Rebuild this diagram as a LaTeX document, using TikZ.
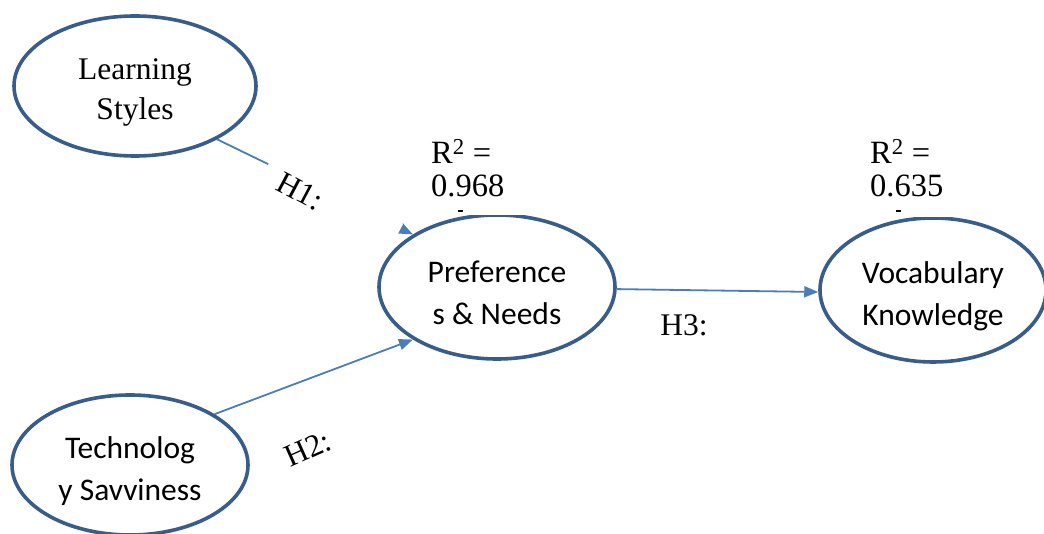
\documentclass[tikz,border=0pt]{standalone}
\usepackage{fontspec}
\setmainfont{Liberation Serif}
\newfontfamily\calibri{Carlito}
\usetikzlibrary{arrows.meta,shapes.geometric}
\definecolor{shapeline}{HTML}{385D8A}
\definecolor{linkline}{HTML}{4A7EBB}
% first-line strut that pushes a two-line label slightly below centre
\newcommand\toplift{\rule{0pt}{34pt}}
\begin{document}
\begin{tikzpicture}[x=1pt,y=-1pt,
  concept/.style={ellipse, draw=shapeline, line width=3.6pt, fill=white,
    inner sep=0pt, align=center},
  sanslabel/.style={font=\calibri\fontsize{31.5}{39}\selectfont},
  seriflabel/.style={font=\fontsize{31.5}{37}\selectfont},
  link/.style={draw=linkline, line width=1.8pt,
    -{Triangle[length=14pt,width=11pt]}},
  hypo/.style={font=\fontsize{31.5}{36}\selectfont, inner sep=3pt},
  rsq/.style={font=\fontsize{32.5}{33}\selectfont, align=left, inner sep=0pt},
]
\clip (0,0) rectangle (1044,534);
\fill[white] (0,0) rectangle (1044,534);

% constructs
\node[concept, seriflabel, minimum width=242pt, minimum height=140pt]
  (ls) at (135,86) {\toplift Learning\\[3pt]Styles};
\node[concept, sanslabel, minimum width=236pt, minimum height=144pt]
  (pn) at (497,287) {\toplift Preference\\[3pt]s \& Needs};
\node[concept, sanslabel, minimum width=226pt, minimum height=144pt]
  (vk) at (933,290) {\toplift Vocabulary\\[3pt]Knowledge};
\node[concept, sanslabel, minimum width=236pt, minimum height=140pt]
  (ts) at (130,465) {\toplift Technolog\\[3pt]y Savviness};

% hypothesised paths
\draw[link] (ls.-33) -- (pn.148.6);
\draw[link] (ts.31) -- (pn.-148);
\draw[link] (pn.-1) -- (vk.181);

% path labels (the H1 text box is opaque and runs along its path)
\node[hypo, fill=white, rotate=-28, anchor=west, text width=141pt,
  align=left, minimum height=38pt] (h1) at (264,172) {\hspace*{14pt}H1:};
\node[hypo, rotate=24] (h2) at (308,449) {H2:};
\node[hypo] (h3) at (684,325) {H3:};

% explained variance boxes
\fill[white] (420,128) rectangle (545,215.5);
\node[rsq, anchor=north west] (r1) at (431,139) {R\textsuperscript{2} =\\0.968};
\fill (458,210) rectangle (463,212);

\fill[white] (860,128) rectangle (985,217.5);
\node[rsq, anchor=north west] (r2) at (870,139) {R\textsuperscript{2} =\\0.635};
\fill (896,210) rectangle (901,212);
\end{tikzpicture}
\end{document}
